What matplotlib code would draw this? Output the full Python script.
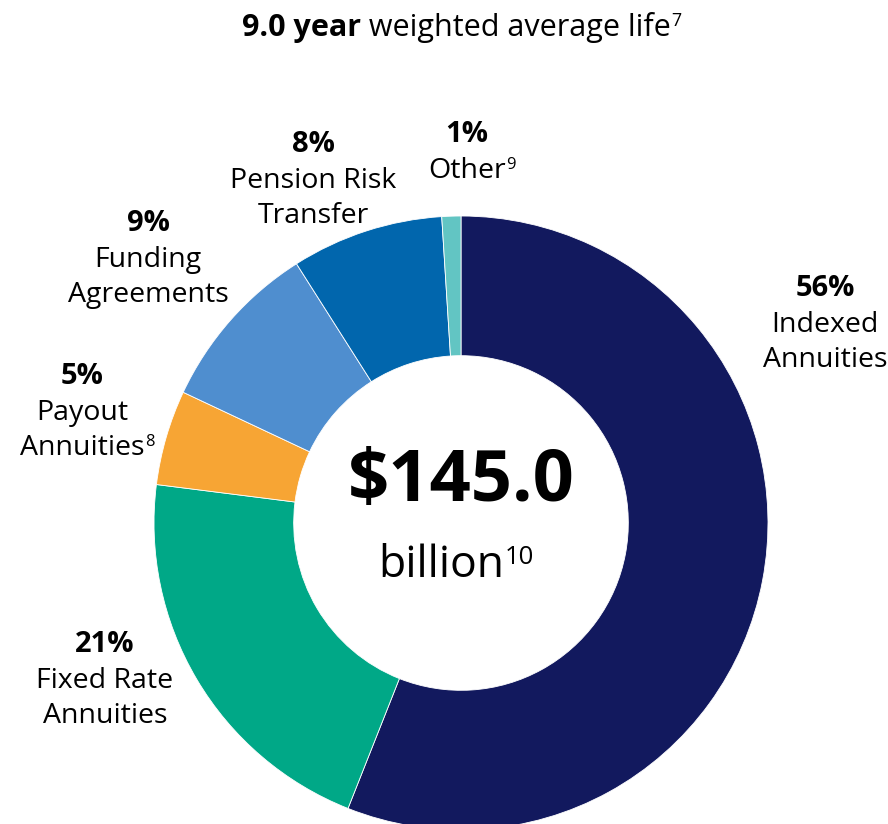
import matplotlib.pyplot as plt

plt.rcParams['font.family'] = ['Open Sans', 'DejaVu Sans']

# Portfolio mix
segments = ["Indexed\nAnnuities", "Fixed Rate\nAnnuities", "Payout\nAnnuities",
            "Funding\nAgreements", "Pension Risk\nTransfer", "Other"]
shares = [56, 21, 5, 9, 8, 1]
notes = ["", "", "8", "", "", "9"]
colors = ["#12195E", "#00A887", "#F7A534", "#4F8ECF", "#0166AD", "#62C5C3"]

total_text = "$145.0"
unit_text = "billion"
unit_note = "10"
title_bold = "9.0 year"
title_rest = " weighted average life"
title_note = "7"

W, H = 888, 824
fig = plt.figure(figsize=(W / 100, H / 100), dpi=100)
ax = fig.add_axes([0, 0, 1, 1])

cx, cy, r = 461, H - 523, 307
ax.pie(shares, colors=colors, startangle=90, counterclock=False,
       center=(cx, cy), radius=r,
       wedgeprops=dict(width=r * 0.455, edgecolor="white", linewidth=0.6))
ax.set_xlim(0, W)
ax.set_ylim(0, H)
ax.set_aspect("equal")
ax.axis("off")


def sup(anchor, s, base):
    # small raised footnote number right after the anchor text
    ax.annotate(s, xy=(1, 0), xycoords=anchor, xytext=(0.5, base * 0.42),
                textcoords="offset points", ha="left", va="bottom",
                fontsize=base * 0.58, color="black")


# label anchors (pixel x, pixel y of percent line)
label_pos = [(825, 288), (105, 644), (82, 376), (148, 223), (313, 144), (467, 134)]
line_gap = 35
fs = 20.5
for seg, pct, note, (px, py) in zip(segments, shares, notes, label_pos):
    ax.text(px, H - py, f"{pct}%", ha="center", va="center",
            fontsize=21, fontweight="bold", color="black")
    lines = seg.split("\n")
    for i, ln in enumerate(lines):
        t = ax.text(px, H - (py + 2 + line_gap * (i + 1)), ln, ha="center",
                    va="center", fontsize=fs, color="black")
    if note:
        sup(t, note, fs)

# centre text
ax.text(cx, H - 482, total_text, ha="center", va="center",
        fontsize=52, fontweight="bold", color="black")
bt = ax.text(378, H - 566, unit_text, ha="left", va="center",
             fontsize=32, color="black")
sup(bt, unit_note, 32)

# title
tb = ax.text(242, H - 28, title_bold, ha="left", va="center",
             fontsize=22, fontweight="bold", color="black")
tr = ax.annotate(title_rest, xy=(1, 0), xycoords=tb, ha="left", va="bottom",
                 fontsize=22, color="black")
sup(tr, title_note, 22)

fig.savefig("out.png", dpi=100)
